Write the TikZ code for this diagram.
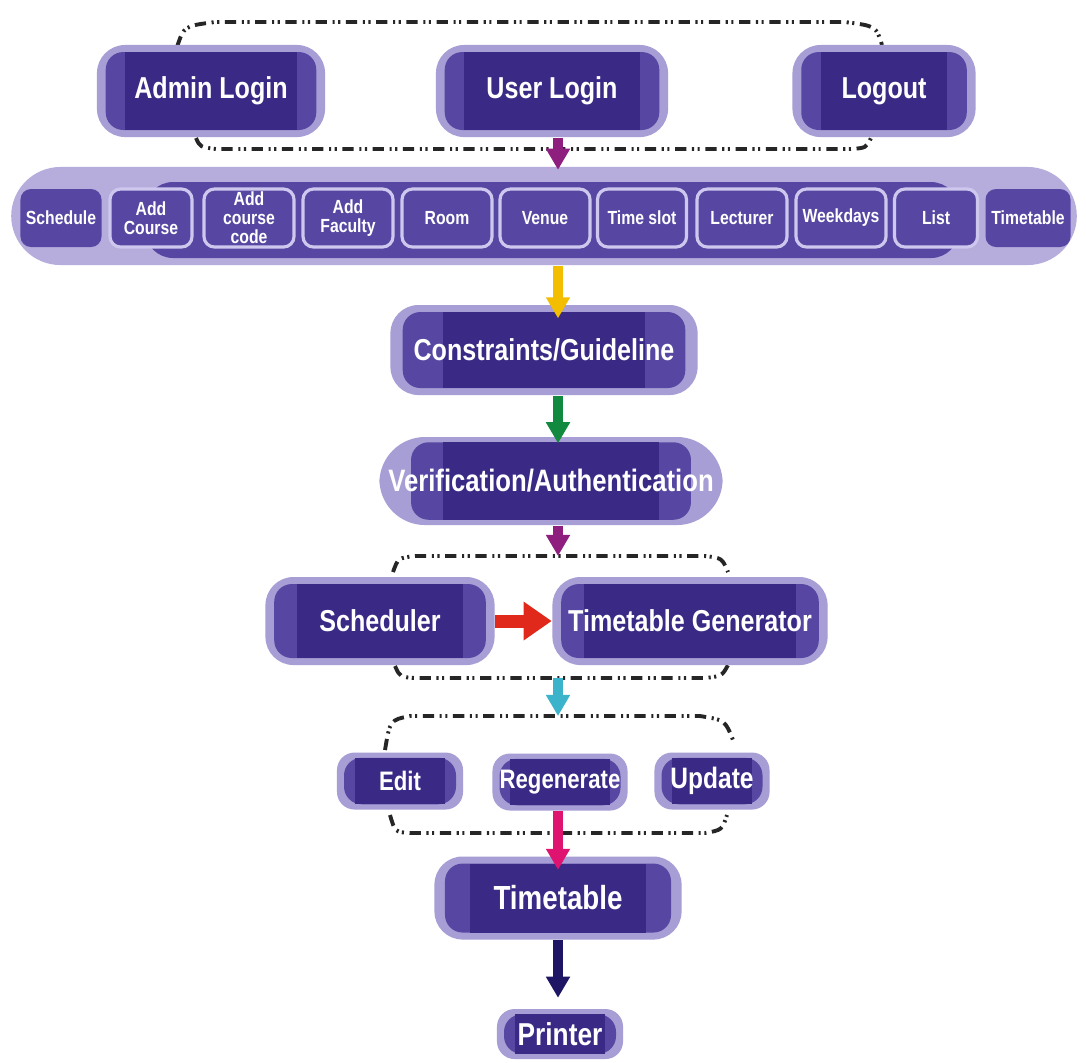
\documentclass[tikz,border=0pt]{standalone}
\usepackage{fontspec}
\newfontfamily\boxfont{Liberation Sans}[FakeStretch=0.83]
\usetikzlibrary{arrows.meta}

\definecolor{boxdark}{HTML}{3A2A86}
\definecolor{boxmid}{HTML}{5747A2}
\definecolor{boxlite}{HTML}{A89ED6}
\definecolor{barlite}{HTML}{B6ADDD}
\definecolor{modline}{HTML}{CEC7EE}
\definecolor{arrplum}{HTML}{8E1F7E}
\definecolor{arryellow}{HTML}{F4BE00}
\definecolor{arrgreen}{HTML}{11893E}
\definecolor{arrred}{HTML}{E0291B}
\definecolor{arrcyan}{HTML}{3BB4CB}
\definecolor{arrpink}{HTML}{DE1470}
\definecolor{arrnavy}{HTML}{1E1665}

\tikzset{
  halo/.code n args={3}{\def\hx{#1}\def\hy{#2}\def\dx{#3}},
  fs/.style={font=\boxfont\bfseries\fontsize{#1}{#1}\selectfont},
  main/.style={rectangle, rounded corners=8pt, fill=boxlite, text=white,
    align=center, inner sep=0pt, fs=8.6, halo={2.5pt}{2pt}{8pt},
    path picture={
      \fill[boxmid, rounded corners=5pt]
        ([shift={(\hx,\hy)}]path picture bounding box.south west) rectangle
        ([shift={(-\hx,-\hy)}]path picture bounding box.north east);
      \fill[boxdark, sharp corners]
        ([shift={(\dx,\hy)}]path picture bounding box.south west) rectangle
        ([shift={(-\dx,-\hy)}]path picture bounding box.north east);
    }},
  bar/.style={rectangle, rounded corners=14pt, fill=barlite, inner sep=0pt},
  module/.style={rectangle, rounded corners=3pt, fill=boxmid, draw=modline,
    line width=0.9pt, text=white, align=center, inner sep=0pt,
    minimum height=0.58cm, font=\boxfont\bfseries\fontsize{5.4}{5.4}\selectfont},
  grp/.style={black!85, line width=1.1pt,
    dash pattern=on 3.2pt off 1.6pt on 0.6pt off 1pt on 0.6pt off 1.6pt},
  arr/.style={line width=2.8pt, -{Triangle[width=6.5pt,length=6pt]}},
}

\begin{document}
\begin{tikzpicture}[x=0.01cm, y=-0.01cm]

    \useasboundingbox[fill=white] (0,0) rectangle (1086,1062);

    % Group outlines
    \draw[grp] (177,47) .. controls (184,26) .. (215,22) -- (845,22) .. controls (876,26) .. (882,45);
    \draw[grp] (196,138) .. controls (200,147) .. (216,149) -- (850,149) .. controls (866,148) .. (871,138);
    \draw[grp] (393,572) .. controls (398,558) .. (415,556) -- (705,556) .. controls (722,558) .. (728,572);
    \draw[grp] (395,666) .. controls (400,677) .. (415,678) -- (705,678) .. controls (722,676) .. (728,665);
    \draw[grp] (385,750) .. controls (390,720) .. (410,716) -- (700,716) .. controls (725,720) .. (733,740);
    \draw[grp] (390,815) .. controls (395,832) .. (410,833) -- (705,833) .. controls (722,830) .. (727,815);

    \coordinate (col) at (558,0);
    \coordinate (grpB) at (558,556);
    \coordinate (grpBb) at (558,678);
    \coordinate (grpC) at (558,716);

    % Login row
    \node[main, minimum width=2.28cm, minimum height=0.92cm] (admin) at (211,91) {Admin Login};
    \node[main, minimum width=2.32cm, minimum height=0.92cm] (user) at (552,91) {User Login};
    \node[main, minimum width=1.83cm, minimum height=0.92cm] (logout) at (884,91) {Logout};

    % Module bar
    \node[bar, minimum width=10.65cm, minimum height=0.98cm] (bar) at (544,216) {};
    \fill[boxmid, rounded corners=8pt] (145,182) rectangle (959,258);
    \node[module, draw=none, minimum width=0.81cm] (schedule) at (61,218) {Schedule};
    \node[module, minimum width=0.82cm] (addcourse) at (151,218) {Add\\Course};
    \node[module, minimum width=0.90cm] (addcode) at (249,218) {Add\\course\\code};
    \node[module, minimum width=0.90cm] (addfaculty) at (348,218) {Add\\Faculty};
    \node[module, minimum width=0.90cm] (room) at (447,218) {Room};
    \node[module, minimum width=0.90cm] (venue) at (545,218) {Venue};
    \node[module, minimum width=0.89cm] (timeslot) at (642,218) {Time slot};
    \node[module, minimum width=0.90cm] (lecturer) at (742,218) {Lecturer};
    \node[module, minimum width=0.90cm] (weekdays) at (841,218) {Weekdays};
    \node[module, minimum width=0.83cm] (list) at (936,218) {List};
    \node[module, draw=none, minimum width=0.85cm] (ttmod) at (1028,218) {Timetable};

    % Main chain
    \node[main, minimum width=3.07cm, minimum height=0.90cm, halo={3.5pt}{2pt}{15pt}] (cons) at (544,350) {Constraints/Guideline};
    \node[main, rounded corners=13pt, minimum width=3.43cm, minimum height=0.88cm, halo={9pt}{1.5pt}{18pt}, fs=8.8] (ver) at (551,481) {Verification/Authentication};

    % Scheduler group
    \node[main, minimum width=2.29cm, minimum height=0.88cm, halo={2.5pt}{2pt}{9pt}] (sched) at (380,621) {Scheduler};
    \node[main, minimum width=2.75cm, minimum height=0.88cm, halo={2.5pt}{2pt}{9pt}] (gen) at (690,621) {Timetable Generator};

    % Edit group
    \node[main, rounded corners=5pt, minimum width=1.26cm, minimum height=0.57cm, halo={2pt}{1.5pt}{5pt}, fs=7.6] (edit) at (400,781) {Edit};
    \node[main, rounded corners=5pt, minimum width=1.35cm, minimum height=0.57cm, halo={2pt}{1.5pt}{5pt}, fs=7.6] (regen) at (560,782) {Regenerate};
    \node[main, rounded corners=5pt, minimum width=1.15cm, minimum height=0.57cm, halo={2pt}{1.5pt}{5pt}, fs=8.4] (update) at (712,781) {Update};

    % Output
    \node[main, minimum width=2.47cm, minimum height=0.83cm, halo={3pt}{2pt}{10pt}, fs=9.5] (tt) at (558,898) {Timetable};
    \node[main, rounded corners=5pt, minimum width=1.26cm, minimum height=0.50cm, halo={2pt}{1.5pt}{5pt}, fs=9] (printer) at (560,1034) {Printer};

    % Arrows
    \draw[arr, arrplum] (col |- user.south) -- ([yshift=-1pt]col |- bar.north);
    \draw[arr, arryellow] (col |- bar.south) -- ([yshift=-4pt]col |- cons.north);
    \draw[arr, arrgreen] (col |- cons.south) -- ([yshift=-2pt]col |- ver.north);
    \draw[arr, arrplum] (col |- ver.south) -- (grpB);
    \draw[line width=3.7pt, arrred, -{Triangle[width=10.5pt,length=8pt]}] (sched.east) -- (gen.west);
    \draw[arr, arrcyan] (grpBb) -- (grpC);
    \draw[arr, arrpink] (col |- regen.south) -- ([yshift=-4pt]col |- tt.north);
    \draw[arr, arrnavy] (col |- tt.south) -- ([yshift=3pt]col |- printer.north);

\end{tikzpicture}
\end{document}
